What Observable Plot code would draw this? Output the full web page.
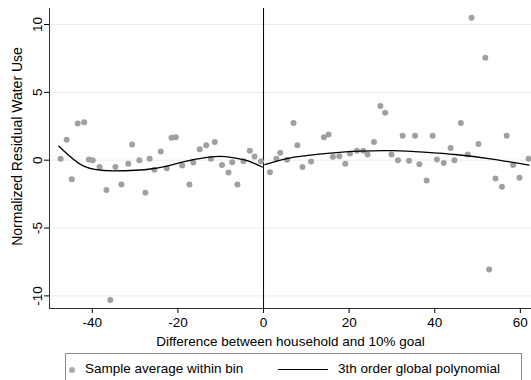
<!DOCTYPE html>
<html><head><meta charset="utf-8">
<script src="https://cdn.jsdelivr.net/npm/d3@7"></script>
<script src="https://cdn.jsdelivr.net/npm/@observablehq/plot@0.6"></script>
<style>
body{margin:0;background:#fff;font-family:"Liberation Sans",Arial,sans-serif;}
#wrap{position:relative;width:531px;height:380px;overflow:hidden;background:#fff}
#legend{position:absolute;left:65px;top:353px;width:457px;height:40px;border:1px solid #8a8a8a;box-sizing:border-box;font-size:13.5px;color:#000}
#legend .dot{position:absolute;left:3px;top:13px;width:6px;height:6px;border-radius:50%;background:#a8a8a8}
#legend .t1{position:absolute;left:19px;top:7px;white-space:nowrap}
#legend .ln{position:absolute;left:212px;top:15px;width:50px;height:0;border-top:1.3px solid #000}
#legend .t2{position:absolute;left:272px;top:7px;white-space:nowrap}
</style></head><body>
<div id="wrap"><div id="chart"></div>
<div id="legend"><span class="dot"></span><span class="t1">Sample average within bin</span><span class="ln"></span><span class="t2">3th order global polynomial</span></div>
</div>
<script>
// Bin averages (x = difference from goal, y = normalized residual water use)
const binX = [-47.4,-46.0,-44.8,-43.4,-41.9,-40.8,-39.9,-38.3,-36.7,-35.8,-34.6,-33.2,-31.6,-30.7,-29.0,-27.6,-26.6,-25.5,-24.0,-22.6,-21.5,-20.5,-19.0,-17.3,-16.4,-14.9,-13.4,-12.3,-11.4,-9.7,-8.2,-7.3,-6.1,-4.7,-3.2,-2.1,-0.6,
  1.5,3.0,3.9,5.5,7.0,7.9,9.1,11.1,14.1,15.2,16.2,17.7,19.1,20.2,21.8,23.3,24.3,25.8,27.3,28.4,29.9,31.4,32.5,34.0,35.4,36.4,38.1,39.5,40.5,42.1,43.7,44.6,46.1,47.7,48.6,50.2,51.8,52.7,54.2,55.7,56.8,58.3,59.8,61.9];
const binY = [0.1,1.5,-1.4,2.7,2.8,0.05,0.0,-0.5,-2.2,-10.3,-0.5,-1.8,-0.27,1.15,0.0,-2.4,0.1,-0.7,0.65,-0.6,1.65,1.7,-0.4,-1.8,-0.17,0.8,1.1,0.1,1.35,-0.35,-0.9,-0.15,-1.8,-0.07,0.7,0.27,-0.07,
  -0.88,0.1,0.55,0.03,2.75,1.1,-0.5,-0.1,1.7,1.9,0.25,0.3,-0.27,0.5,0.7,0.7,0.42,1.35,4.0,3.5,0.42,0.0,1.8,-0.05,1.8,-0.3,-1.5,1.8,0.05,-0.2,0.9,0.0,2.75,0.42,10.5,1.2,7.55,-8.05,-1.35,-1.95,1.8,-0.35,-1.3,0.1];
// Global polynomial fit, left and right of the goal
const fitLeftX = [-47.8,-42,-35,-26,-19,-12.8,-8.9,-4.2,-0.3];
const fitLeftY = [1.03,-0.44,-0.78,-0.63,-0.14,0.22,0.27,0.0,-0.5];
const fitRightX = [0.3,7.1,14.9,22.6,30.4,37.4,45.2,53.0,62.0];
const fitRightY = [-0.33,0.22,0.51,0.67,0.7,0.59,0.4,0.1,-0.36];
const xTicks = [-40,-20,0,20,40,60];
const yTicks = [-10,-5,0,5,10];

const bins = binX.map((x,i)=>({x, y: binY[i]}));
const left = fitLeftX.map((x,i)=>({x, y: fitLeftY[i]}));
const right = fitRightX.map((x,i)=>({x, y: fitRightY[i]}));
const xMin = -50, xMax = 62.6, yMin = -10.93, yMax = 11.18;

const chart = Plot.plot({
  width: 531, height: 352,
  marginLeft: 49, marginRight: 0, marginTop: 8, marginBottom: 44,
  x: {domain: [xMin, xMax]},
  y: {domain: [yMin, yMax]},
  style: {fontFamily: "'Liberation Sans', Arial, sans-serif", fontSize: "13.5px", color: "#000", background: "#fff"},
  marks: [
    Plot.ruleY(yTicks, {stroke: "#e4eeee", strokeWidth: 1}),
    Plot.ruleX([0], {stroke: "#000", strokeWidth: 1}),
    Plot.dot(bins, {x: "x", y: "y", r: 3, fill: "#a0a0a0", stroke: "none"}),
    Plot.line(left, {x: "x", y: "y", curve: "natural", stroke: "#000", strokeWidth: 1.3}),
    Plot.line(right, {x: "x", y: "y", curve: "natural", stroke: "#000", strokeWidth: 1.3}),
    Plot.ruleX([xMin], {stroke: "#333", strokeWidth: 1}),
    Plot.ruleY([yMin], {stroke: "#333", strokeWidth: 1}),
    Plot.axisX({ticks: xTicks, tickSize: 5, tickPadding: 4, tickFormat: d => String(d),
      label: "Difference between household and 10% goal", labelAnchor: "center", labelArrow: "none", labelOffset: 37}),
    Plot.axisY({ticks: yTicks, tickSize: 5, tickFormat: () => "", label: null}),
    Plot.text(yTicks, {y: d => d, text: d => String(d), frameAnchor: "left", dx: -8, rotate: -90, textAnchor: "middle", lineAnchor: "bottom"}),
    Plot.text(["Normalized Residual Water Use"], {frameAnchor: "left", dx: -28, dy: -12, rotate: -90, textAnchor: "middle", lineAnchor: "bottom", fontSize: 14})
  ]
});
document.getElementById("chart").appendChild(chart);
</script>
</body></html>
